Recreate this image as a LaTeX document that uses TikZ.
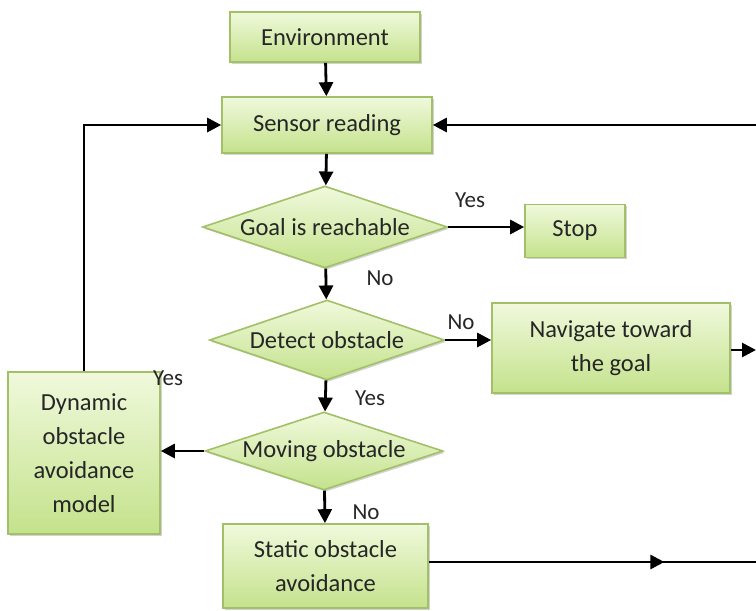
\documentclass[tikz,border=0pt]{standalone}
\usepackage{fontspec}
\setmainfont{Carlito}
\usetikzlibrary{shapes.geometric,arrows.meta,shadows,decorations.markings}

\definecolor{boxtop}{HTML}{F0F9DC}
\definecolor{boxbot}{HTML}{C4E28C}
\definecolor{boxline}{HTML}{A2C067}
\definecolor{txt}{HTML}{262626}

\begin{document}
\begin{tikzpicture}[x=1pt,y=-1pt,
  font=\fontsize{24.5}{34}\selectfont,
  stepbox/.style={rectangle, draw=boxline, line width=1.6pt,
    top color=boxtop, bottom color=boxbot, text=txt, align=center,
    inner sep=0pt,
    drop shadow={shadow xshift=1.8pt, shadow yshift=-1.8pt, opacity=0.35}},
  choice/.style={diamond, draw=boxline, line width=1.6pt,
    top color=boxtop, bottom color=boxbot, inner sep=0pt,
    drop shadow={shadow xshift=1.8pt, shadow yshift=-1.8pt, opacity=0.35}},
  flow/.style={line width=2.8pt, draw=black, -{Triangle[length=14pt,width=14pt]}},
  plain/.style={line width=2.8pt, draw=black},
  lbl/.style={text=txt, inner sep=1pt, font=\fontsize{23}{27}\selectfont}
]
\useasboundingbox (0,0) rectangle (756,611);

% process boxes
\node[stepbox, minimum width=190pt, minimum height=50pt] (env) at (325,37) {Environment};
\node[stepbox, minimum width=210pt, minimum height=56pt] (sensor) at (327,125) {Sensor reading};
\node[stepbox, minimum width=100pt, minimum height=53pt] (stop) at (575,231) {Stop};
\node[stepbox, minimum width=238pt, minimum height=90pt] (nav) at (611,348) {Navigate toward\\the goal};
\node[stepbox, minimum width=152pt, minimum height=162pt] (dyn) at (84,453) {Dynamic\\obstacle\\avoidance\\model};
\node[stepbox, minimum width=205pt, minimum height=84pt] (static) at (325.5,566) {Static obstacle\\avoidance};

% decisions
\node[choice, minimum width=245pt, minimum height=82pt,
  label={[text=txt]center:Goal is reachable}] (goal) at (325,227) {};
\node[choice, minimum width=235pt, minimum height=80pt,
  label={[text=txt]center:Detect obstacle}] (detect) at (327,340) {};
\node[choice, minimum width=238pt, minimum height=78pt,
  label={[text=txt]center:Moving obstacle}] (moving) at (324,451) {};

% loose ends at the right border
\coordinate (rin) at (756,125);
\coordinate (nout) at (756,350);
\coordinate (sout) at (756,562);

% connectors
\draw[flow] (env) -- (sensor);
\draw[flow] (rin) -- (sensor.east);
\draw[flow] (sensor) -- (goal);
\draw[flow] (goal.east) -- (goal.east -| stop.west);
\draw[flow] (goal) -- (detect);
\draw[flow] (detect.east) -- (detect.east -| nav.west);
\draw[flow] (nav.east |- nout) -- (nout);
\draw[flow] (detect) -- (moving);
\draw[flow] (moving.west) -- (moving.west -| dyn.east);
\draw[flow] (dyn.north) |- (sensor.west);
\draw[flow] (moving) -- (static);
\draw[plain, postaction={decorate}, decoration={markings,
  mark=at position 0.72 with {\arrow{Triangle[length=14pt,width=14pt]}}}]
  (static.east |- sout) -- (sout);

% branch labels
\node[lbl] (y1) at (470,200) {Yes};
\node[lbl] (n1) at (380,278) {No};
\node[lbl] (n2) at (461,322) {No};
\node[lbl] (y2) at (370,398) {Yes};
\node[lbl] (y3) at (168,378) {Yes};
\node[lbl] (n3) at (366,512) {No};
\end{tikzpicture}
\end{document}
